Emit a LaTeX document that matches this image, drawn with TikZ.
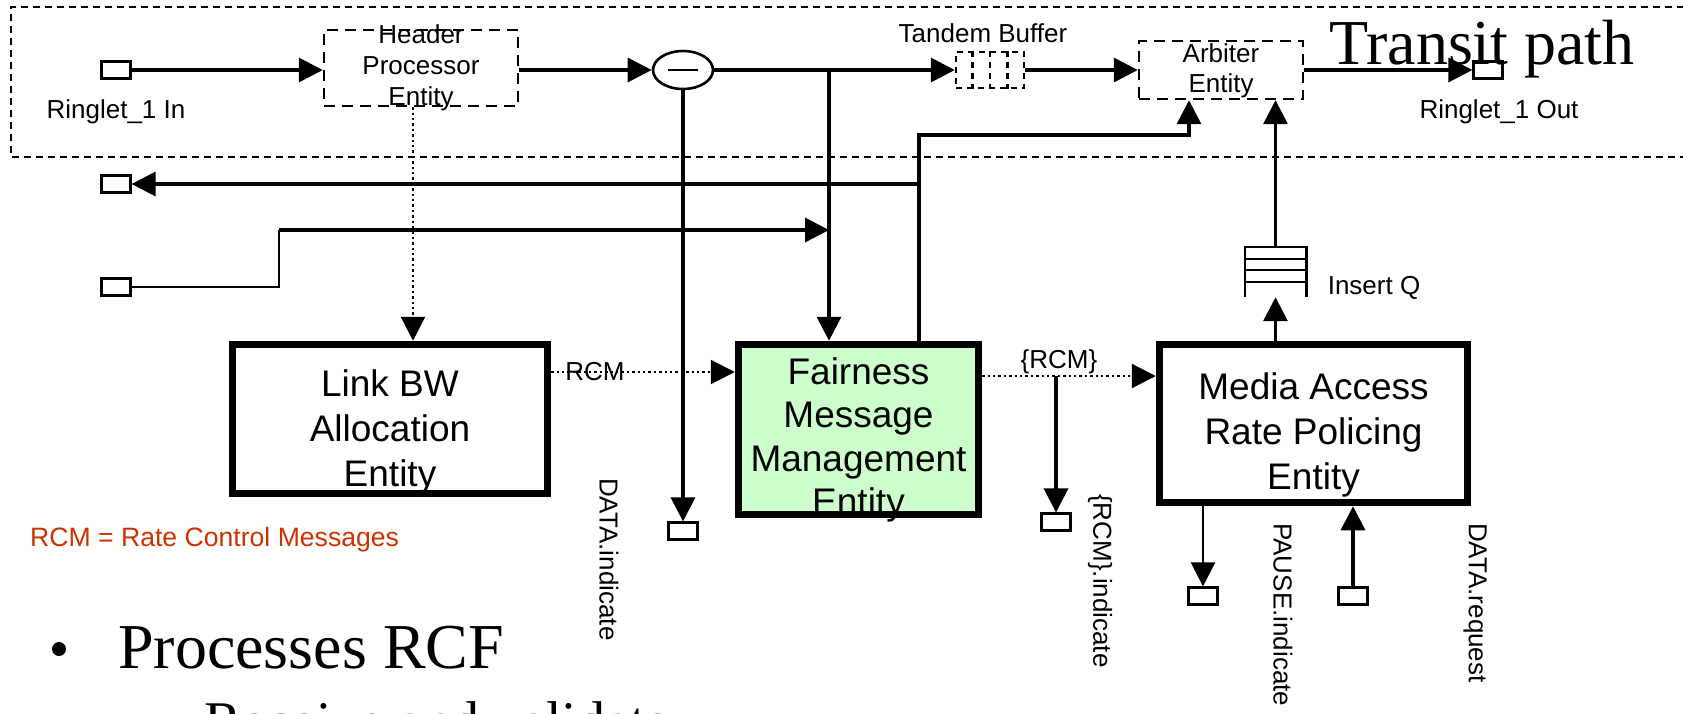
\documentclass[tikz,border=0pt]{standalone}
\usepackage{fontspec}
\setmainfont{Liberation Serif}
\newfontfamily\arial{Liberation Sans}
\usetikzlibrary{arrows.meta,shapes.geometric,calc}
\definecolor{fmmgreen}{HTML}{CCFFCC}
\definecolor{rcmred}{HTML}{CC3300}
\begin{document}
\begin{tikzpicture}[x=1pt,y=-1pt,
  tip/.style={-{Triangle[length=24pt,width=24pt]}},
  port/.style={draw,line width=2.2pt,minimum width=29pt,minimum height=17pt,inner sep=0pt},
  entity/.style={draw,line width=7.5pt,inner sep=0pt},
  dbox/.style={draw,line width=2.4pt,dash pattern=on 11pt off 7pt,inner sep=0pt},
  lbl/.style={font=\arial\fontsize{26}{31}\selectfont,align=center,inner sep=0pt},
  big/.style={font=\arial\fontsize{37}{45}\selectfont,align=center,inner sep=0pt},
  flow/.style={line width=3.4pt},
  thinflow/.style={line width=2.4pt},
  dots/.style={line width=2.4pt,dash pattern=on 2.4pt off 3pt}]
\useasboundingbox (0,0) rectangle (1683,713);
% transit frame
\draw[line width=1.6pt,dash pattern=on 7pt off 5pt] (1720,7) -- (11,7) -- (11,157) -- (1720,157);
% top row
\node[port] (rin) at (116,70) {};
\node[lbl] (rinl) at (116,112) {Ringlet\_1 In};
\node[dbox,minimum width=194pt,minimum height=76pt] (hdr) at (421,68) {};
\node[lbl] (hdrl) at (421,68) {Header\\Processor\\Entity};
\node[draw,ellipse,line width=2.6pt,minimum width=60pt,minimum height=38pt,inner sep=0pt] (minus) at (683,70) {};
\draw[line width=2.6pt] ($(minus.center)+(-15,0)$) -- ($(minus.center)+(15,0)$);
\node[dbox,dash pattern=on 6pt off 5pt,minimum width=68pt,minimum height=36pt] (tb) at (990,70) {};
\foreach \f in {0.25,0.5,0.75}
  \draw[line width=2.4pt,dash pattern=on 6pt off 5pt] ($(tb.north west)!\f!(tb.north east)$) -- ($(tb.south west)!\f!(tb.south east)$);
\node[lbl] (tbl) at (983,33) {Tandem Buffer};
\node[dbox,minimum width=164pt,minimum height=58pt] (arb) at (1221,70) {};
\node[lbl,font=\arial\fontsize{26}{30}\selectfont] (arbl) at (1221,71) {Arbiter\\Entity};
\node[port] (rout) at (1488,70) {};
\node[lbl] (routl) at (1499,112) {Ringlet\_1 Out};
\node[font=\fontsize{64}{64}\selectfont,anchor=base,inner sep=0pt] (tp) at (1482,64) {Transit path};
% left ports
\node[port] (out2) at (116,184) {};
\node[port] (in3) at (116,287) {};
% entities
\node[entity,minimum width=315pt,minimum height=149pt] (lbw) at (390,419) {};
\node[big] (lbwl) at (390,432) {Link BW\\Allocation\\Entity};
\node[entity,fill=fmmgreen,minimum width=240pt,minimum height=170pt] (fmm) at (858.5,429.5) {};
\node[big,font=\arial\fontsize{37}{43.5}\selectfont] (fmml) at (858.5,440) {Fairness\\Message\\Management\\Entity};
\node[entity,minimum width=308pt,minimum height=158pt] (mar) at (1313.5,423.5) {};
\node[big] (marl) at (1313.5,435) {Media Access\\Rate Policing\\Entity};
% insert queue
\node[minimum width=61pt,minimum height=50pt,inner sep=0pt] (insq) at (1275.5,272) {};
\draw[line width=2.6pt] (insq.south west) -- (insq.north west) -- (insq.north east) -- (insq.south east);
\foreach \f in {0.24,0.46,0.70}
  \draw[line width=2.6pt] ($(insq.north west)!\f!(insq.south west)$) -- ($(insq.north east)!\f!(insq.south east)$);
\node[lbl] (insql) at (1374,288) {Insert Q};
% bottom ports
\node[port] (dind) at (683,531) {};
\node[port] (rind) at (1056,522) {};
\node[port] (pind) at (1203,596) {};
\node[port] (dreq) at (1353,596) {};
\node[lbl,rotate=-90,anchor=west] (dindl) at (609,478) {DATA.indicate};
\node[lbl,rotate=-90,anchor=west] (rindl) at (1100,494) {\{RCM\}.indicate};
\node[lbl,rotate=-90,anchor=west] (pindl) at (1283,523) {PAUSE.indicate};
\node[lbl,rotate=-90,anchor=west] (dreql) at (1475,523) {DATA.request};
% coordinates
\coordinate (j1) at (829,70);
\coordinate (a1) at (919,135);
\coordinate (a2) at (1189,135);
\coordinate (j2) at (919,184);
\coordinate (k1) at (279,230);
\coordinate (j3) at (829,230);
\coordinate (hx) at (413,0);
\coordinate (ry) at (0,372);
\coordinate (ry2) at (0,376);
\coordinate (j4) at (1056,376);
% connectors
\draw[flow,tip] (rin.east) -- (rin.east -| hdr.west);
\draw[flow,tip] (minus.west -| hdr.east) -- (minus.west);
\draw[flow,tip] (minus.east) -- (tb.west);
\draw[flow,tip] (tb.east) -- (arb.west);
\draw[flow,tip] (arb.east) -- (rout.west);
\draw[flow,tip] (j1) -- (j1 |- fmm.north);
\draw[flow,tip] (minus.south) -- (dind.north);
\draw[flow,tip] (fmm.north -| a1) -- (a1) -- (a2) -- (a2 |- arb.south);
\draw[flow,tip] (j2) -- (out2.east);
\draw[thinflow] (in3.east) -| (k1);
\draw[flow,tip] (k1) -- (j3);
\draw[dots,tip] (hdr.south -| hx) -- (lbw.north -| hx);
\draw[dots,tip] (lbw.east |- ry) -- (fmm.west |- ry);
\node[lbl] (rcml) at (595,372) {RCM};
\draw[dots,tip] (fmm.east |- ry2) -- (mar.west |- ry2);
\node[lbl] (rcm2l) at (1059,362) {\{RCM\}};
\draw[flow,tip] (j4) -- (rind.north);
\draw[flow,tip] (mar.north -| insq) -- (insq.south);
\draw[flow,tip] (insq.north) -- (insq.north |- arb.south);
\draw[thinflow,tip] (mar.south -| pind) -- (pind.north);
\draw[flow,tip] (dreq.north) -- (dreq.north |- mar.south);
% legend and bullets
\node[lbl,text=rcmred,anchor=west,font=\arial\fontsize{26.6}{31}\selectfont] (legend) at (30,540) {RCM = Rate Control Messages};
\node[circle,fill,minimum size=14pt,inner sep=0pt] (bul) at (59,649) {};
\node[font=\fontsize{64}{64}\selectfont,anchor=base west,inner sep=0pt] (b1) at (118,668) {Processes RCF};
\node[font=\fontsize{56}{56}\selectfont,anchor=base west,inner sep=0pt] (b2) at (204,740) {Receive and validate};
\end{tikzpicture}
\end{document}
